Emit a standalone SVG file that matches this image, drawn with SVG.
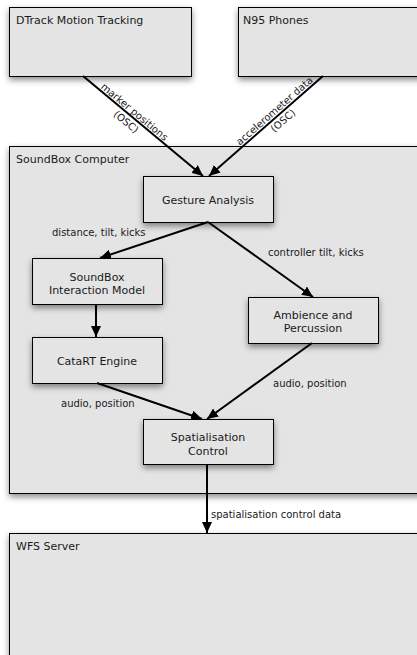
<svg xmlns="http://www.w3.org/2000/svg" width="417" height="655" viewBox="0 0 417 655">
<style>
.box{fill:#e4e4e4;stroke:#000;stroke-width:1;filter:url(#sh)}
.t{font-family:"DejaVu Sans",sans-serif;font-size:11px;fill:#1a1a1a}
.c{text-anchor:middle}
.lb{font-family:"DejaVu Sans",sans-serif;font-size:10px;fill:#1a1a1a}
.e{stroke:#000;stroke-width:2;fill:none;marker-end:url(#ah)}
</style>
<defs>
<filter id="sh" x="-10%" y="-10%" width="130%" height="140%">
<feDropShadow dx="0" dy="3" stdDeviation="3" flood-color="#000" flood-opacity="0.45"/>
</filter>
<marker id="ah" markerUnits="userSpaceOnUse" markerWidth="12" markerHeight="10" refX="11" refY="5" orient="auto">
<path d="M0,0 L11,5 L0,10 Z" fill="#000"/>
</marker>
</defs>
<rect width="417" height="655" fill="#fff"/>
<g id="dtrack"><rect class="box" x="9.5" y="7.5" width="182" height="69"/><text class="t" x="16" y="24">DTrack Motion Tracking</text></g>
<g id="n95"><rect class="box" x="238.5" y="7.5" width="200" height="69"/><text class="t" x="243" y="24">N95 Phones</text></g>
<g id="soundbox"><rect class="box" x="9.5" y="146.5" width="430" height="347"/><text class="t" x="16" y="163">SoundBox Computer</text></g>
<g id="wfs"><rect class="box" x="9.5" y="533.5" width="430" height="130"/><text class="t" x="16" y="550">WFS Server</text></g>
<g id="gesture"><rect class="box" x="143.5" y="176.5" width="130" height="46"/><text class="t c" x="208" y="204">Gesture Analysis</text></g>
<g id="sbim"><rect class="box" x="32.5" y="258.5" width="130" height="46"/><text class="t c" x="97" y="281">SoundBox</text><text class="t c" x="97" y="294">Interaction Model</text></g>
<g id="catart"><rect class="box" x="32.5" y="337.5" width="130" height="46"/><text class="t c" x="97" y="365">CataRT Engine</text></g>
<g id="ambience"><rect class="box" x="248.5" y="297.5" width="130" height="46"/><text class="t c" x="313" y="319">Ambience and</text><text class="t c" x="313" y="332">Percussion</text></g>
<g id="spat"><rect class="box" x="143.5" y="419.5" width="130" height="45"/><text class="t c" x="208" y="441">Spatialisation</text><text class="t c" x="208" y="455">Control</text></g>
<g id="connectors">
<line class="e" x1="83" y1="76" x2="203" y2="176"/>
<line class="e" x1="323" y1="76" x2="209" y2="176"/>
<line class="e" x1="208" y1="222" x2="100" y2="258"/>
<line class="e" x1="208" y1="222" x2="313" y2="297"/>
<line class="e" x1="96" y1="304" x2="96" y2="337"/>
<line class="e" x1="97" y1="383" x2="202" y2="419"/>
<line class="e" x1="312" y1="343" x2="207" y2="419"/>
<line class="e" x1="207" y1="464" x2="207" y2="533"/>
<g transform="translate(131,116) rotate(39.8)"><text class="lb c" x="0" y="-2">marker positions</text><text class="lb c" x="0" y="11">(OSC)</text></g>
<g transform="translate(278,115) rotate(-41.3)"><text class="lb c" x="0" y="-2">accelerometer data</text><text class="lb c" x="0" y="11">(OSC)</text></g>
<text class="lb" x="52" y="236">distance, tilt, kicks</text>
<text class="lb" x="268" y="256">controller tilt, kicks</text>
<text class="lb" x="273" y="387">audio, position</text>
<text class="lb" x="61" y="407">audio, position</text>
<text class="lb" x="211" y="518">spatialisation control data</text>
</g>
</svg>
